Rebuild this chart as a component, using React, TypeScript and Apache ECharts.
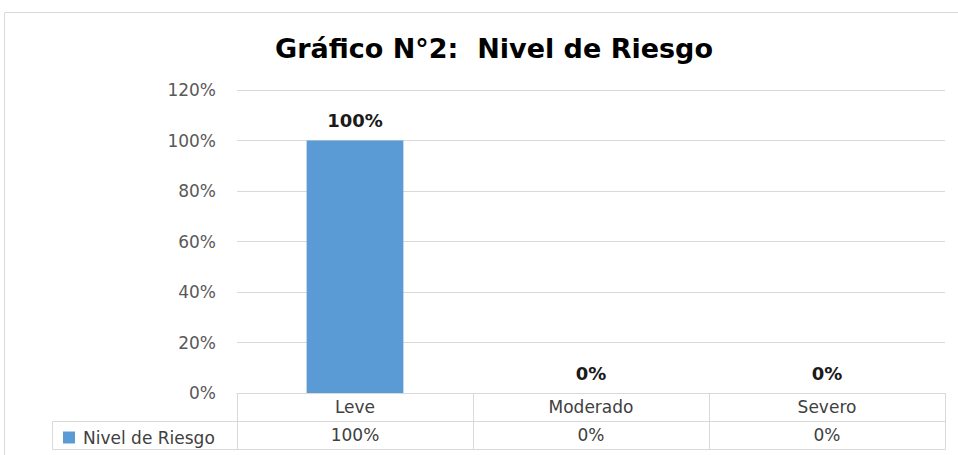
import React, { useEffect, useRef } from "react";
import * as echarts from "echarts";

const TITLE = "Gráfico N°2:  Nivel de Riesgo";
const SERIES_NAME = "Nivel de Riesgo";
const CATEGORIES = ["Leve", "Moderado", "Severo"];
const VALUES = [1.0, 0, 0];
const Y_MIN = 0;
const Y_MAX = 1.2;
const Y_STEP = 0.2;

const W = 958;
const H = 455;
const GRID_LEFT = 237;
const GRID_RIGHT = 13;
const GRID_TOP = 90;
const GRID_BOTTOM = 62;
const ROW_H = 28;
const LEGEND_CELL_LEFT = 52;
const LINE = "#d9d9d9";
const FONT = "DejaVu Sans";

const pct = (v: number) => `${Math.round(v * 100)}%`;

export default function App() {
  const ref = useRef<HTMLDivElement>(null);
  useEffect(() => {
    if (!ref.current) return;
    const chart = echarts.init(ref.current, undefined, { renderer: "svg" });
    const axisY = H - GRID_BOTTOM;
    const plotRight = W - GRID_RIGHT;
    chart.setOption({
      animation: false,
      backgroundColor: "#ffffff",
      title: {
        text: TITLE,
        left: 489,
        top: 30,
        textAlign: "center",
        textStyle: { fontFamily: FONT, fontSize: 27, fontWeight: "bold", color: "#000000" },
      },
      legend: {
        data: [SERIES_NAME],
        left: LEGEND_CELL_LEFT + 11,
        top: axisY + ROW_H + 8,
        itemWidth: 12,
        itemHeight: 12,
        icon: "rect",
        padding: 0,
        textStyle: { fontFamily: FONT, fontSize: 17, color: "#404040", padding: [0, 0, 0, 3] },
      },
      grid: { left: GRID_LEFT, right: GRID_RIGHT, top: GRID_TOP, bottom: GRID_BOTTOM },
      xAxis: [
        {
          type: "category",
          data: CATEGORIES,
          position: "bottom",
          axisLine: { show: true, lineStyle: { color: LINE, width: 1 } },
          axisTick: { show: true, interval: 0, length: ROW_H * 2, lineStyle: { color: LINE } },
          axisLabel: {
            interval: 0,
            margin: ROW_H / 2,
            verticalAlign: "middle",
            fontFamily: FONT,
            fontSize: 17,
            color: "#404040",
          },
          splitLine: { show: false },
        },
        {
          type: "category",
          data: VALUES.map(pct),
          position: "bottom",
          offset: ROW_H,
          axisLine: { show: true, lineStyle: { color: LINE, width: 1 } },
          axisTick: { show: false },
          axisLabel: {
            interval: 0,
            margin: ROW_H / 2,
            verticalAlign: "middle",
            fontFamily: FONT,
            fontSize: 17,
            color: "#404040",
          },
        },
      ],
      yAxis: {
        type: "value",
        min: Y_MIN,
        max: Y_MAX,
        interval: Y_STEP,
        axisLine: { show: false },
        axisTick: { show: false },
        axisLabel: {
          margin: 21,
          formatter: (v: number) => pct(v),
          fontFamily: FONT,
          fontSize: 17,
          color: "#595959",
        },
        splitLine: { lineStyle: { color: LINE, width: 1 } },
      },
      series: [
        {
          name: SERIES_NAME,
          type: "bar",
          xAxisIndex: 0,
          data: VALUES,
          barWidth: "41%",
          itemStyle: { color: "#5b9bd5" },
          label: {
            show: true,
            position: "top",
            distance: 11,
            formatter: (p: any) => pct(p.value),
            fontFamily: FONT,
            fontSize: 18,
            fontWeight: "bold",
            color: "#1a1a1a",
          },
        },
      ],
      graphic: [
        {
          type: "rect",
          silent: true,
          shape: { x: 4.5, y: 12.5, width: W + 20, height: H + 20 },
          style: { fill: "none", stroke: LINE, lineWidth: 1 },
        },
        {
          type: "rect",
          silent: true,
          shape: {
            x: LEGEND_CELL_LEFT + 0.5,
            y: axisY + ROW_H + 0.5,
            width: plotRight - LEGEND_CELL_LEFT,
            height: ROW_H,
          },
          style: { fill: "none", stroke: LINE, lineWidth: 1 },
        },
      ],
    });
    return () => chart.dispose();
  }, []);
  return (
    <div
      ref={ref}
      style={{ position: "absolute", left: 0, top: 0, width: W, height: H }}
    />
  );
}
